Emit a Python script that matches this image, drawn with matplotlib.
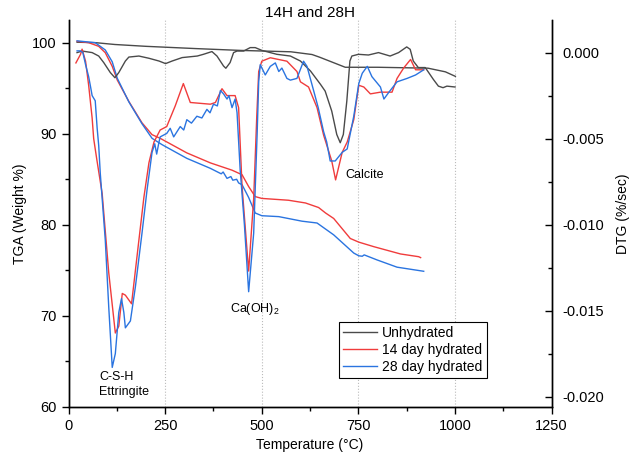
import numpy as np
import matplotlib
matplotlib.use("Agg")
import matplotlib.pyplot as plt
from matplotlib.ticker import MultipleLocator, FormatStrFormatter

plt.rcParams["font.family"] = ["Liberation Sans", "DejaVu Sans"]
plt.rcParams["axes.unicode_minus"] = False
plt.rcParams["mathtext.fontset"] = "custom"
plt.rcParams["mathtext.rm"] = "Liberation Sans"

# TGA curves (weight %)
t_tga_unhyd = [22, 70, 120, 200, 330, 445, 575, 630, 650, 680, 716, 800, 930, 975, 1001]
tga_unhyd = [100.05, 100.0, 99.8, 99.6, 99.35, 99.15, 99.0, 98.7, 98.4, 97.9, 97.3, 97.3, 97.2, 96.8, 96.3]

t_tga_14 = [22, 52, 78, 95, 113, 126, 156, 190, 216, 237, 306, 367, 423, 449, 466, 483, 500,
            569, 613, 647, 665, 686, 729, 751, 790, 859, 906, 911]
tga_14 = [100.15, 100.0, 99.6, 98.9, 97.4, 95.9, 93.55, 91.2, 89.9, 89.5, 87.9, 86.8, 86.0, 85.5, 84.2, 83.1, 82.9,
          82.7, 82.4, 81.9, 81.3, 80.7, 78.5, 78.1, 77.6, 76.8, 76.5, 76.4]

t_tga_28 = [22, 69, 95, 113, 126, 156, 190, 216, 242, 306, 367, 395, 400, 410, 420, 425, 435, 440, 449,
            466, 483, 500, 544, 604, 643, 686, 738, 751, 760, 765, 798, 850, 919]
tga_28 = [100.2, 100.0, 99.2, 97.9, 96.1, 93.5, 91.1, 89.5, 88.8, 87.3, 86.2, 85.6, 85.8, 85.1, 85.3, 84.9,
          85.0, 84.6, 84.4, 83.0, 81.3, 81.0, 80.9, 80.4, 80.2, 78.9, 76.9, 76.6, 76.55, 76.7, 76.15, 75.35, 74.9]

# DTG curves (%/sec)
t_dtg_unhyd = [22, 35, 61, 78, 91, 108, 120, 130, 147, 156, 182, 208, 234, 251, 268, 294, 333, 349, 371,
               384, 401, 407, 418, 427, 436, 453, 470, 483, 500, 539, 574, 600, 626, 652, 664, 681, 694,
               703, 711, 720, 728, 733, 750, 776, 802, 832, 854, 875, 884, 892, 905, 923, 944, 957, 969,
               979, 1000]
dtg_unhyd = [0.0, 0.00009, 0.0, -0.0002, -0.00058, -0.00116, -0.00146, -0.00116, -0.00049, -0.00026,
             -0.0002, -0.00033, -0.00049, -0.00064, -0.00049, -0.00029, -0.0002, -0.0001, 0.00006,
             -0.0002, -0.00078, -0.00091, -0.00058, 0.0, 0.00009, 0.00009, 0.00029, 0.00029, 0.00013,
             -0.0001, -0.0002, -0.00049, -0.00107, -0.00185, -0.00224, -0.0034, -0.00476,
             -0.00524, -0.00476, -0.00282, -0.00049, -0.0002, -0.0001, -0.00014, 0.0, -0.0002, 0.0,
             0.00033, 0.00019, -0.00049, -0.00087, -0.00087, -0.00156, -0.00195, -0.00204,
             -0.00195, -0.002]

t_dtg_14 = [19, 31, 35, 44, 52, 61, 65, 73, 87, 104, 121, 130, 139, 147, 163, 182, 195, 208, 221, 237,
            254, 276, 297, 315, 367, 380, 397, 410, 431, 440, 449, 466, 479, 487, 492, 500, 522, 565,
            591, 600, 621, 643, 660, 681, 691, 708, 721, 738, 751, 764, 781, 807, 837, 850, 867, 885,
            898, 919]
dtg_14 = [-0.0006, -0.0001, 0.0002, -0.0005, -0.0019, -0.0038, -0.005, -0.0062, -0.0082, -0.0128,
          -0.0163, -0.0159, -0.014, -0.0141, -0.0146, -0.0109, -0.0084, -0.0064, -0.0052, -0.0045,
          -0.0043, -0.0031, -0.0018, -0.0029, -0.003, -0.0029, -0.0021, -0.0025, -0.0025, -0.0032,
          -0.0078, -0.0127, -0.0085, -0.0037, -0.0011, -0.0005, -0.0003, -0.0005, -0.0011, -0.0017,
          -0.002, -0.0032, -0.0048, -0.0063, -0.0074, -0.0058, -0.0052, -0.0039, -0.0019, -0.002,
          -0.0024, -0.0023, -0.0023, -0.0015, -0.0009, -0.0004, -0.001, -0.001]

t_dtg_28 = [22, 31, 37, 44, 52, 57, 61, 69, 74, 78, 82, 86, 95, 104, 113, 121, 130, 137, 143, 147,
            160, 173, 190, 203, 216, 223, 228, 234, 237, 254, 263, 272, 289, 298, 306, 318, 332, 345,
            358, 366, 375, 385, 393, 401, 410, 415, 423, 431, 436, 444, 455, 466, 479, 488, 492, 496,
            509, 522, 535, 544, 552, 565, 574, 591, 608, 617, 634, 646, 660, 668, 677, 690, 708, 721,
            738, 751, 760, 773, 785, 807, 816, 829, 850, 876, 898, 919]
dtg_28 = [0.0001, 0.0001, 0.0, -0.0007, -0.0014, -0.002, -0.0025, -0.0028, -0.0044, -0.0054, -0.007,
          -0.0082, -0.0109, -0.0148, -0.0183, -0.0175, -0.0151, -0.0143, -0.0151, -0.016, -0.0156,
          -0.0136, -0.0105, -0.008, -0.0058, -0.0053, -0.0059, -0.0052, -0.0049, -0.0047, -0.0044,
          -0.0049, -0.0043, -0.0045, -0.0039, -0.0041, -0.0037, -0.0038, -0.0033, -0.0035, -0.003,
          -0.0031, -0.0022, -0.0024, -0.0027, -0.0025, -0.0032, -0.0027, -0.0035, -0.0068, -0.01,
          -0.0139, -0.0105, -0.0047, -0.0017, -0.0007, -0.0013, -0.0008, -0.0006, -0.0011, -0.0009,
          -0.0015, -0.0016, -0.0015, -0.0005, -0.0008, -0.0022, -0.0032, -0.0046, -0.0052, -0.0063,
          -0.0063, -0.0058, -0.0056, -0.0037, -0.0018, -0.0012, -0.0008, -0.0014, -0.002, -0.0027,
          -0.0023, -0.0017, -0.0015, -0.0013, -0.001]

grid_temps = [250, 500, 750, 1000]

c_gray = "#4a4a4a"
c_red = "#f03c3c"
c_blue = "#2a74e0"

fig = plt.figure(figsize=(6.29, 4.63), dpi=100)
ax = fig.add_axes([0.109, 0.121, 0.768, 0.836])
ax2 = ax.twinx()

for t in grid_temps:
    ax.axvline(t, color="#bbbbbb", lw=0.8, ls=":", zorder=0)

ax.plot(t_tga_unhyd, tga_unhyd, color=c_gray, lw=1.0)
ax.plot(t_tga_14, tga_14, color=c_red, lw=1.0)
ax.plot(t_tga_28, tga_28, color=c_blue, lw=1.0)

l1, = ax2.plot(t_dtg_unhyd, dtg_unhyd, color=c_gray, lw=1.0, label="Unhydrated")
l2, = ax2.plot(t_dtg_14, dtg_14, color=c_red, lw=1.0, label="14 day hydrated")
l3, = ax2.plot(t_dtg_28, dtg_28, color=c_blue, lw=1.0, label="28 day hydrated")

ax.set_xlim(0, 1250)
ax.set_ylim(60, 102.5)
ax2.set_ylim(-0.0206, 0.0019)

ax.xaxis.set_major_locator(MultipleLocator(250))
ax.xaxis.set_minor_locator(MultipleLocator(125))
ax.yaxis.set_major_locator(MultipleLocator(10))
ax.yaxis.set_minor_locator(MultipleLocator(5))
ax2.yaxis.set_major_locator(MultipleLocator(0.005))
ax2.yaxis.set_minor_locator(MultipleLocator(0.0025))
ax2.yaxis.set_major_formatter(FormatStrFormatter("%.3f"))

ax.tick_params(axis="both", which="major", direction="out", length=5, width=1, labelsize=10.5)
ax.tick_params(axis="both", which="minor", direction="out", length=3, width=1)
ax2.tick_params(axis="y", which="major", direction="in", length=5, width=1, labelsize=10.5, pad=8)
ax2.tick_params(axis="y", which="minor", direction="in", length=3, width=1)

for a in (ax, ax2):
    a.spines["top"].set_visible(False)
    for s in ("left", "bottom", "right"):
        a.spines[s].set_linewidth(1.0)

ax.set_xlabel("Temperature (°C)", fontsize=10)
ax.set_ylabel("TGA (Weight %)", fontsize=10)
ax2.set_ylabel("DTG (%/sec)", fontsize=10, labelpad=8)
ax.set_title("14H and 28H", fontsize=11, pad=1)

ax.text(79, 63.3, "C-S-H", fontsize=9, va="center", ha="left")
ax.text(79, 61.6, "Ettringite", fontsize=9, va="center", ha="left")
ax.text(483, 70.8, "Ca(OH)$_2$", fontsize=9, va="center", ha="center")
ax.text(716, 85.5, "Calcite", fontsize=9, va="center", ha="left")

leg = ax2.legend(handles=[l1, l2, l3], loc="upper left", bbox_to_anchor=(0.56, 0.22),
                 borderaxespad=0, fancybox=False, edgecolor="black", framealpha=1,
                 fontsize=10, handlelength=2.4, handletextpad=0.4, borderpad=0.3,
                 labelspacing=0.2)
leg.get_frame().set_linewidth(0.8)

fig.savefig("out.png", dpi=100)
